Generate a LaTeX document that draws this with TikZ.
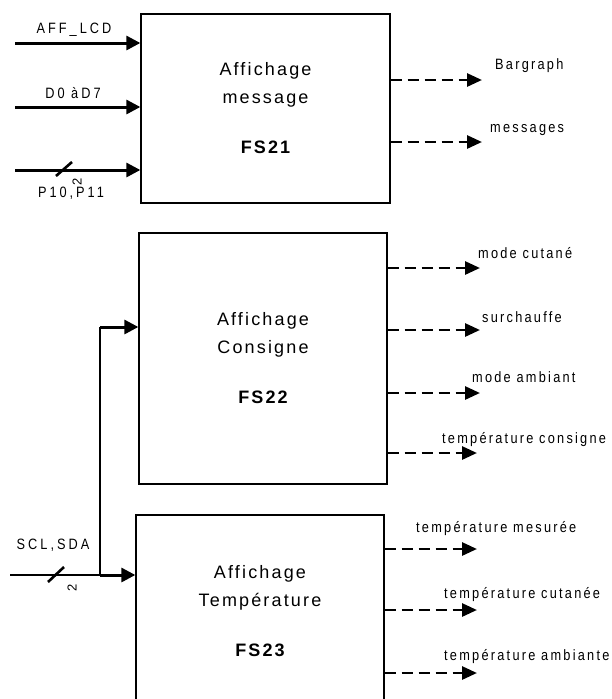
\documentclass[tikz,border=0pt]{standalone}
\usepackage{fontspec}
\setmainfont{Liberation Sans}
\newfontfamily\boxfont{Liberation Sans}[LetterSpace=12]
\newfontfamily\labfont{Liberation Sans}[LetterSpace=15,FakeStretch=0.85]
\newfontfamily\infont{Liberation Sans}[LetterSpace=20,FakeStretch=0.85]
\usetikzlibrary{arrows.meta,calc}
\begin{document}
\begin{tikzpicture}[x=1pt,y=-1pt,
  blockbox/.style={draw,line width=1.3pt,rectangle,inner sep=0pt,align=center,font=\boxfont\fontsize{18}{20}\selectfont},
  inarrow/.style={line width=3pt,-{Triangle[length=14pt,width=14pt]}},
  outarrow/.style={line width=2.8pt,dash pattern=on 11pt off 6pt,-{Triangle[length=15pt,width=13pt]}},
  bus/.style={line width=2.8pt},
  lab/.style={font=\labfont\fontsize{15}{16}\selectfont,inner sep=0pt},
  inlab/.style={font=\infont\fontsize{15}{16}\selectfont,inner sep=0pt},
  busnum/.style={font=\fontsize{13}{13}\selectfont,inner sep=0pt}
]
\useasboundingbox (0,0) rectangle (611,699);

% blocks
\node[blockbox,minimum width=249pt,minimum height=189pt] (b1) at (265.5,108.5)
  {Affichage\\[8pt]message\\[30pt]{\bfseries FS21}};
\node[blockbox,minimum width=248pt,minimum height=251pt] (b2) at (263,358.5)
  {Affichage\\[8pt]Consigne\\[30pt]{\bfseries FS22}};
\node[blockbox,minimum width=248pt,minimum height=192pt] (b3) at (260,611)
  {Affichage\\[8pt]Temp\'erature\\[30pt]{\bfseries FS23}};

% inputs of FS21
\coordinate (i1) at (15,43);
\coordinate (i2) at (15,107);
\coordinate (i3) at (15,170);
\draw[inarrow] (i1) -- (i1 -| b1.west);
\draw[inarrow] (i2) -- (i2 -| b1.west);
\draw[inarrow] (i3) -- (i3 -| b1.west);
\node[inlab] (l1) at (74,30) {AFF\_LCD};
\node[inlab] (l2) at (73,93) {D0 \`aD7};
\node[inlab] (l3) at (71,193) {P10,P11};
\coordinate (s1a) at (56,176);
\coordinate (s1b) at (72,162);
\draw[line width=2.6pt] (s1a) -- (s1b);
\node[busnum,rotate=90] (n1) at (77,182) {2};

% SCL,SDA bus
\coordinate (sc) at (10,575);
\coordinate (jn) at (100,575);
\coordinate (up) at (100,327);
\draw[bus] (sc) -- (jn);
\draw[inarrow] (jn) -- (jn -| b3.west);
\draw[bus] (jn) -- (up);
\draw[inarrow] (up) -- (up -| b2.west);
\node[inlab] (l4) at (53,545) {SCL,SDA};
\coordinate (s2a) at (48,582);
\coordinate (s2b) at (64,567);
\draw[line width=2.6pt] (s2a) -- (s2b);
\node[busnum,rotate=90] (n2) at (72,588) {2};

% outputs FS21
\coordinate (o1) at (482,80);
\coordinate (o2) at (482,142);
\draw[outarrow] (o1 -| b1.east) -- (o1);
\draw[outarrow] (o2 -| b1.east) -- (o2);
\node[lab,anchor=west] (t1) at (495,66) {Bargraph};
\node[lab,anchor=west] (t2) at (490,130) {messages};

% outputs FS22
\coordinate (o3) at (480,268);
\coordinate (o4) at (480,330);
\coordinate (o5) at (480,393);
\coordinate (o6) at (477,453);
\draw[outarrow] (o3 -| b2.east) -- (o3);
\draw[outarrow] (o4 -| b2.east) -- (o4);
\draw[outarrow] (o5 -| b2.east) -- (o5);
\draw[outarrow] (o6 -| b2.east) -- (o6);
\node[lab,anchor=west] (t3) at (478,253) {mode cutan\'e};
\node[lab,anchor=west] (t4) at (482,317) {surchauffe};
\node[lab,anchor=west] (t5) at (472,377) {mode ambiant};
\node[lab,anchor=west] (t6) at (442,440) {temp\'erature consigne};

% outputs FS23
\coordinate (o7) at (477,549);
\coordinate (o8) at (477,610);
\coordinate (o9) at (477,673);
\draw[outarrow] (o7 -| b3.east) -- (o7);
\draw[outarrow] (o8 -| b3.east) -- (o8);
\draw[outarrow] (o9 -| b3.east) -- (o9);
\node[lab,anchor=west] (t7) at (416,529) {temp\'erature mesur\'ee};
\node[lab,anchor=west] (t8) at (444,595) {temp\'erature cutan\'ee};
\node[lab,anchor=west] (t9) at (444,657) {temp\'erature ambiante};
\end{tikzpicture}
\end{document}
